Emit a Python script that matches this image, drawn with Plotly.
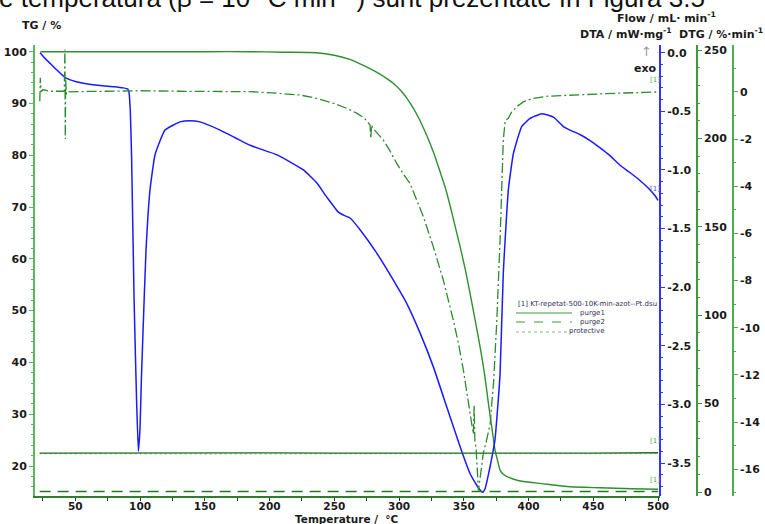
import plotly.graph_objects as go

# ---------------- data ----------------
tg_T = [23, 40, 100, 150, 185, 210, 236, 250, 262, 272, 283, 290, 296, 302, 308.5, 315, 321.4, 327,
        331.7, 336, 339.4, 343, 347.1, 351, 354.8, 358.5, 362.5, 366, 369, 372, 374.1, 376.5, 378, 380,
        383, 388, 396, 410, 432, 455, 480, 500]
tg_val = [100, 100, 100, 100, 100, 99.9, 99.8, 99.3, 98.5, 97.4, 96.0, 94.9, 93.8, 92.3, 90.1, 87.3, 83.8,
          80.3, 76.8, 73.5, 70.3, 66.6, 62.4, 58.1, 53.4, 48.5, 43.1, 37.8, 32.1, 26.8, 23.1, 20.6, 19.2,
          18.5, 18.0, 17.5, 17.0, 16.6, 16.0, 15.8, 15.6, 15.5]

dta_T = [22.8, 26, 30.5, 36, 42, 50, 56.2, 69.1, 80, 87.1, 90.5, 91.5, 92.5, 93.5, 95.4, 97.3, 98.7, 100,
         101, 102.3, 104.6, 107.7, 111.6, 119.3, 130.9, 138.6, 146.3, 161.8, 184.9, 205.5, 226.1, 236.4,
         244.1, 253.1, 258, 262.2, 269.9, 282.8, 295.6, 306, 316.2, 326.5, 336.8, 347.1, 354.8, 360,
         362.5, 364.5, 366.4, 368, 370.3, 374.1, 376, 378, 380.5, 384.4, 388.3, 394.7, 401.2, 410.2,
         419.2, 426.9, 432, 440, 447.5, 455, 462, 470.6, 478, 486, 492, 497.7, 500]
dta_val = [0.0, -0.04, -0.09, -0.15, -0.21, -0.245, -0.26, -0.28, -0.29, -0.30, -0.31, -0.34, -0.5, -0.9,
           -2.1, -2.95, -3.40, -3.2, -2.8, -2.38, -1.69, -1.17, -0.87, -0.66, -0.59, -0.58, -0.59, -0.66,
           -0.79, -0.87, -1.00, -1.11, -1.23, -1.36, -1.39, -1.41, -1.51, -1.71, -1.94, -2.14, -2.39,
           -2.68, -3.02, -3.36, -3.59, -3.69, -3.73, -3.75, -3.72, -3.65, -3.53, -3.30, -3.05, -2.74,
           -1.88, -1.17, -0.86, -0.63, -0.56, -0.52, -0.55, -0.63, -0.66, -0.70, -0.75, -0.81, -0.87,
           -0.96, -1.02, -1.09, -1.15, -1.22, -1.26]

dtg_T = [22.6, 23.0, 23.6, 25, 30, 41.5, 42.0, 42.3, 42.6, 43.2, 45, 60, 80, 100, 130, 160, 185, 205,
         223.6, 237, 249.3, 259, 267.3, 273, 277.6, 278.2, 278.8, 280, 287.9, 293, 298.2, 303, 308.5,
         313, 318.8, 326.5, 334.2, 341.9, 346, 349.7, 352.5, 354.8, 356.5, 357.4, 358, 358.6, 359.5,
         360.5, 361.3, 362.5, 363.5, 365.1, 367, 370.3, 373, 375.4, 378, 380.5, 382, 384.4, 387, 390.9,
         396, 403.7, 415, 432, 450, 470, 490, 500]
dtg_val = [-0.4, 0.6, 0.0, 0.1, 0.03, 0.03, 1.8, -2.0, 0.5, -0.1, 0.0, 0.02, 0.04, 0.05, 0.03, 0.02, 0.01,
           -0.05, -0.13, -0.28, -0.48, -0.68, -0.9, -1.1, -1.4, -1.97, -1.4, -1.55, -2.04, -2.5, -3.03,
           -3.45, -3.88, -4.5, -5.29, -6.57, -7.98, -9.68, -10.7, -11.8, -12.7, -13.6, -14.2, -14.5,
           -13.3, -14.8, -15.1, -16.0, -16.9, -16.4, -15.9, -15.3, -14.9, -14.1, -12.3, -9.8, -6.3,
           -2.04, -1.2, -1.12, -0.85, -0.62, -0.42, -0.27, -0.18, -0.13, -0.08, -0.05, -0.02, 0.0]

flow_T = [22.5, 60, 100, 150, 200, 250, 300, 350, 400, 450, 500]
purge1 = [22.0, 22.1, 21.9, 22.0, 22.1, 22.0, 21.9, 22.0, 22.1, 22.0, 22.2]
purge2 = [0.3, 0.3, 0.3, 0.3, 0.3, 0.3, 0.3, 0.3, 0.3, 0.3, 0.3]
protective = [21.6, 21.5, 21.7, 21.6, 21.5, 21.6, 21.7, 21.5, 21.6, 21.6, 21.7]

x_ticks = [50, 100, 150, 200, 250, 300, 350, 400, 450, 500]
tg_ticks = [20, 30, 40, 50, 60, 70, 80, 90, 100]
dta_ticks = [0.0, -0.5, -1.0, -1.5, -2.0, -2.5, -3.0, -3.5]
dta_labels = ["0.0", "-0.5", "-1.0", "-1.5", "-2.0", "-2.5", "-3.0", "-3.5"]
flow_ticks = [0, 50, 100, 150, 200, 250]
dtg_ticks = [0, -2, -4, -6, -8, -10, -12, -14, -16]
dtg_labels = ["0", "-2", "-4", "-6", "-8", "-10", "-12", "-14", "-16"]

# ---------------- layout helpers ----------------
W, H = 765, 524
ML, MR, MT, MB = 35, 20, 45, 28
PW = W - ML - MR
PH = H - MT - MB


def P(x, y):
    return (x - ML) / PW, (H - MB - y) / PH


GREEN_TG = "#2f8f2f"
GREEN_DTG = "#2e8b2e"
GREEN_FLOW = "#1b6e1b"
BLUE = "#1a1aff"
TXT = "#1a1a1a"

fig = go.Figure()

fig.add_trace(go.Scatter(x=flow_T, y=protective, yaxis="y3", mode="lines",
                         line=dict(color="#7fbf7f", width=1, dash="2px,3px")))
fig.add_trace(go.Scatter(x=flow_T, y=purge1, yaxis="y3", mode="lines",
                         line=dict(color=GREEN_FLOW, width=1.3)))
fig.add_trace(go.Scatter(x=flow_T, y=purge2, yaxis="y3", mode="lines",
                         line=dict(color="#1f7a1f", width=1.5, dash="11px,7px")))
fig.add_trace(go.Scatter(x=tg_T, y=tg_val, yaxis="y", mode="lines",
                         line=dict(color=GREEN_TG, width=1.4, shape="spline", smoothing=0.6)))
fig.add_trace(go.Scatter(x=dtg_T, y=dtg_val, yaxis="y4", mode="lines",
                         line=dict(color=GREEN_DTG, width=1.3, dash="10px,3px,2px,3px")))
fig.add_trace(go.Scatter(x=dta_T, y=dta_val, yaxis="y2", mode="lines",
                         line=dict(color=BLUE, width=1.5, shape="spline", smoothing=0.4)))

tick_font = dict(family="DejaVu Sans", size=11, color=TXT, weight="bold")
xd_end = (660 - ML) / PW

fig.update_layout(
    width=W, height=H, margin=dict(l=ML, r=MR, t=MT, b=MB, autoexpand=False),
    paper_bgcolor="white", plot_bgcolor="white", showlegend=False,
    xaxis=dict(domain=[0, xd_end], range=[18.9, 501.5], tickvals=x_ticks, automargin=False,
               showgrid=False, zeroline=False, showline=True, linecolor="#2e7d32", linewidth=1.5,
               ticks="outside", ticklen=3, tickcolor="#333", ticklabelstandoff=-3,
               tickfont=dict(family="DejaVu Sans", size=10.5, color=TXT, weight="bold"),
               minor=dict(ticks="outside", dtick=25, tick0=0, ticklen=3, tickcolor="#333")),
    yaxis=dict(range=[14.21, 101.29], tickvals=tg_ticks, showgrid=False, zeroline=False,
               automargin=False,
               showline=True, linecolor="#5cb85c", linewidth=2, ticks="outside", ticklen=4,
               tickcolor="#5cb85c", tickfont=tick_font,
               minor=dict(ticks="outside", dtick=2, tick0=0, ticklen=2, tickcolor="#5cb85c")),
    yaxis2=dict(range=[-3.7815, 0.0657], tickvals=dta_ticks, ticktext=dta_labels,
                overlaying="y", side="right", anchor="free", automargin=False,
                position=xd_end, showgrid=False, zeroline=False, showline=True, linecolor="#3333ff",
                linewidth=2, ticks="outside", ticklen=4, tickcolor="#3333ff", tickfont=tick_font,
                minor=dict(ticks="outside", dtick=0.1, tick0=0, ticklen=2, tickcolor="#3333ff")),
    yaxis3=dict(range=[-2.26, 252.83], tickvals=flow_ticks, overlaying="y", side="right",
                anchor="free", position=(697 - ML) / PW, showgrid=False, zeroline=False,
                automargin=False,
                showline=True, linecolor="#3c9c3c", linewidth=1.5, ticks="outside", ticklen=4,
                tickcolor="#3c9c3c", tickfont=tick_font,
                minor=dict(ticks="outside", dtick=10, tick0=0, ticklen=2, tickcolor="#3c9c3c")),
    yaxis4=dict(range=[-17.13, 1.99], tickvals=dtg_ticks, ticktext=dtg_labels, overlaying="y",
                side="right", automargin=False,
                anchor="free", position=(733 - ML) / PW, showgrid=False, zeroline=False,
                showline=True, linecolor="#4caf50", linewidth=1.5, ticks="outside", ticklen=4,
                tickcolor="#4caf50", tickfont=tick_font,
                minor=dict(ticks="outside", dtick=1, tick0=0, ticklen=2, tickcolor="#4caf50")),
)

title_font = dict(family="DejaVu Sans", size=11, color=TXT, weight="bold")


def ann(x, y, text, font, xanchor="center", yanchor="middle"):
    px, py = P(x, y)
    fig.add_annotation(x=px, y=py, xref="paper", yref="paper", text=text, showarrow=False,
                       font=font, xanchor=xanchor, yanchor=yanchor)


# cut-off document text at the very top
ann(-3, -3, "e temperatura (β = 10 °C min<sup>−1</sup>) sunt prezentate în Figura 3.5",
    dict(family="Liberation Sans", size=26, color="#111"), xanchor="left")

ann(41, 26, "TG / %", title_font)
ann(347, 518.5, "Temperature /  °C", dict(family="DejaVu Sans", size=10.5, color=TXT, weight="bold"))
ann(666, 17, "Flow / mL· min<sup>-1</sup>", title_font)
ann(626, 34, "DTA / mW·mg<sup>-1</sup>", title_font)
ann(765, 34, "DTG / %·min<sup>-1</sup>", title_font, xanchor="right")
ann(646, 52, "↑", dict(family="DejaVu Sans", size=13, color="#999"))
ann(645, 68, "exo", title_font)

small_g = dict(family="DejaVu Sans", size=7, color="#4caf50")
small_b = dict(family="DejaVu Sans", size=7, color="#4d4dff")
ann(655, 80, "[1]", small_g)
ann(655, 189, "[1]", small_b)
ann(655, 441, "[1]", small_g)
ann(655, 480, "[1]", small_g)

# legend block
leg_font = dict(family="DejaVu Sans", size=7, color="#333355")
ann(516, 304, "[1] KT-repetat-500-10K-min-azot--Pt.dsu", leg_font, xanchor="left")
ann(607, 313, "purge1", leg_font, xanchor="right")
ann(607, 322, "purge2", leg_font, xanchor="right")
ann(607, 331, "protective", leg_font, xanchor="right")
for yy, dash, col in [(313, "solid", "#3c9c3c"), (322, "dash", "#3c9c3c"), (332, "dot", "#7fbf7f")]:
    x0, y0 = P(516, yy)
    x1, _ = P(572, yy)
    fig.add_shape(type="line", xref="paper", yref="paper", x0=x0, x1=x1, y0=y0, y1=y0,
                  line=dict(color=col, width=1, dash=dash))

fig.write_html("out.html")
